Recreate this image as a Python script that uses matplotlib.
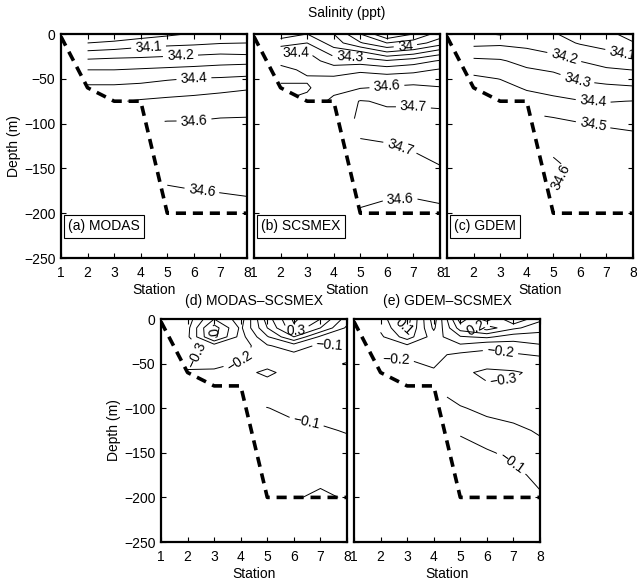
import numpy as np
import matplotlib
matplotlib.use("Agg")
import matplotlib.pyplot as plt

plt.rcParams['font.family'] = ['Liberation Sans', 'DejaVu Sans']
plt.rcParams['font.size'] = 10

nan = np.nan

# grid: stations 1..8, depth (m)
stations = [1, 2, 3, 4, 5, 6, 7, 8]
depths = [0, 10, 20, 30, 40, 50, 60, 75, 100, 125, 150, 175, 200]

# bathymetry (dashed)
bottom_station = [1, 2, 3, 4, 5, 8]
bottom_depth = [-3, -60, -75, -75, -200, -200]

# salinity (ppt), rows = depths, columns = stations
modas = [
    [nan, 33.90, 33.92, 33.95, 33.98, 34.01, 34.03, 34.04],
    [nan, 34.00, 34.02, 34.05, 34.07, 34.08, 34.095, 34.10],
    [nan, 34.115, 34.13, 34.15, 34.16, 34.17, 34.18, 34.17],
    [nan, 34.22, 34.23, 34.23, 34.24, 34.25, 34.265, 34.27],
    [nan, 34.30, 34.30, 34.31, 34.32, 34.33, 34.34, 34.35],
    [nan, 34.36, 34.36, 34.37, 34.39, 34.405, 34.41, 34.42],
    [nan, 34.42, 34.42, 34.43, 34.45, 34.46, 34.475, 34.49],
    [nan, nan, 34.49, 34.51, 34.52, 34.53, 34.54, 34.55],
    [nan, nan, nan, nan, 34.61, 34.61, 34.62, 34.62],
    [nan, nan, nan, nan, 34.64, 34.65, 34.66, 34.66],
    [nan, nan, nan, nan, 34.63, 34.64, 34.645, 34.65],
    [nan, nan, nan, nan, 34.59, 34.598, 34.603, 34.61],
    [nan, nan, nan, nan, 34.56, 34.57, 34.57, 34.57],
]

scsmex = [
    [nan, 34.15, 34.20, 34.10, 33.90, 33.70, 33.80, 33.95],
    [nan, 34.25, 34.30, 34.15, 34.01, 33.90, 33.95, 34.05],
    [nan, 34.38, 34.40, 34.25, 34.21, 34.10, 34.15, 34.25],
    [nan, 34.47, 34.45, 34.35, 34.35, 34.31, 34.35, 34.41],
    [nan, 34.53, 34.48, 34.45, 34.48, 34.45, 34.47, 34.51],
    [nan, 34.53, 34.51, 34.52, 34.55, 34.55, 34.56, 34.56],
    [nan, 34.47, 34.49, 34.56, 34.595, 34.61, 34.62, 34.605],
    [nan, nan, 34.52, 34.63, 34.705, 34.69, 34.69, 34.68],
    [nan, nan, nan, nan, 34.72, 34.73, 34.73, 34.74],
    [nan, nan, nan, nan, 34.69, 34.695, 34.71, 34.73],
    [nan, nan, nan, nan, 34.66, 34.66, 34.67, 34.695],
    [nan, nan, nan, nan, 34.63, 34.62, 34.62, 34.64],
    [nan, nan, nan, nan, 34.59, 34.57, 34.56, 34.57],
]

gdem = [
    [nan, 34.12, 34.09, 34.12, 34.11, 34.05, 34.02, 33.97],
    [nan, 34.17, 34.18, 34.17, 34.15, 34.09, 34.07, 34.005],
    [nan, 34.25, 34.25, 34.22, 34.19, 34.16, 34.11, 34.08],
    [nan, 34.32, 34.31, 34.27, 34.24, 34.198, 34.17, 34.14],
    [nan, 34.37, 34.36, 34.31, 34.29, 34.25, 34.21, 34.199],
    [nan, 34.42, 34.398, 34.35, 34.33, 34.29, 34.27, 34.26],
    [nan, 34.45, 34.43, 34.39, 34.37, 34.33, 34.32, 34.31],
    [nan, nan, 34.46, 34.44, 34.42, 34.405, 34.395, 34.402],
    [nan, nan, nan, nan, 34.53, 34.505, 34.49, 34.48],
    [nan, nan, nan, nan, 34.58, 34.55, 34.55, 34.54],
    [nan, nan, nan, nan, 34.62, 34.58, 34.57, 34.56],
    [nan, nan, nan, nan, 34.598, 34.58, 34.57, 34.56],
    [nan, nan, nan, nan, 34.59, 34.57, 34.56, 34.55],
]

# differences (ppt)
modas_minus_scsmex = [
    [nan, -0.35, -0.10, -0.25, 0.15, 0.42, 0.30, 0.05],
    [nan, -0.33, 0.05, -0.22, 0.10, 0.38, 0.20, -0.02],
    [nan, -0.32, 0.03, -0.24, -0.01, 0.20, -0.02, -0.08],
    [nan, -0.33, -0.25, -0.26, -0.11, -0.05, -0.12, -0.09],
    [nan, -0.31, -0.28, -0.22, -0.15, -0.12, -0.14, -0.13],
    [nan, -0.24, -0.23, -0.19, -0.17, -0.15, -0.15, -0.21],
    [nan, -0.18, -0.18, -0.17, -0.22, -0.16, -0.15, -0.15],
    [nan, nan, -0.16, -0.15, -0.16, -0.15, -0.14, -0.14],
    [nan, nan, nan, nan, -0.098, -0.12, -0.13, -0.13],
    [nan, nan, nan, nan, -0.06, -0.08, -0.09, -0.105],
    [nan, nan, nan, nan, -0.04, -0.05, -0.06, -0.07],
    [nan, nan, nan, nan, -0.03, -0.03, -0.03, -0.04],
    [nan, nan, nan, nan, -0.01, -0.01, 0.02, -0.01],
]

gdem_minus_scsmex = [
    [nan, -0.05, 0.15, -0.25, 0.25, 0.05, 0.30, 0.12],
    [nan, -0.08, 0.12, -0.22, 0.15, 0.25, 0.12, 0.05],
    [nan, -0.12, 0.05, -0.15, -0.01, 0.02, -0.05, -0.05],
    [nan, -0.15, -0.12, -0.13, -0.12, -0.18, -0.15, -0.11],
    [nan, -0.18, -0.19, -0.18, -0.22, -0.22, -0.21, -0.19],
    [nan, -0.22, -0.21, -0.19, -0.25, -0.27, -0.26, -0.25],
    [nan, -0.24, -0.23, -0.21, -0.28, -0.32, -0.31, -0.28],
    [nan, nan, -0.24, -0.21, -0.28, -0.29, -0.29, -0.28],
    [nan, nan, nan, nan, -0.19, -0.23, -0.24, -0.25],
    [nan, nan, nan, nan, -0.11, -0.15, -0.18, -0.21],
    [nan, nan, nan, nan, -0.07, -0.09, -0.12, -0.17],
    [nan, nan, nan, nan, -0.04, -0.07, -0.08, -0.12],
    [nan, nan, nan, nan, -0.02, -0.04, -0.05, -0.09],
]

sal_levels = [33.7, 33.8, 33.9, 34.0, 34.1, 34.2, 34.3, 34.4, 34.5, 34.6, 34.7]
diff_levels = [-0.3, -0.2, -0.1, 0.0, 0.1, 0.2, 0.3, 0.4]

# (level, station, depth) where the inline labels go
modas_labels = [(34.1, 4.3, -17), (34.2, 5.5, -27), (34.4, 6.0, -48),
                (34.6, 6.0, -95), (34.6, 6.3, -175)]
scsmex_labels = [(34.4, 2.6, -26), (34.3, 4.6, -26), (34.0, 6.7, -14),
                 (34.6, 6.0, -58), (34.7, 7.0, -81), (34.7, 6.5, -126),
                 (34.6, 6.5, -185)]
gdem_labels = [(34.1, 7.6, -21), (34.2, 5.4, -27), (34.3, 5.9, -51),
               (34.4, 6.5, -75), (34.5, 6.5, -101), (34.6, 5.3, -160)]
d_labels = [(0.0, 3.0, -15), (-0.3, 2.4, -40), (-0.2, 4.0, -48),
            (0.3, 6.1, -15), (-0.1, 7.35, -28), (-0.1, 6.5, -112)]
e_labels = [(0.1, 2.9, -8), (-0.2, 2.6, -45), (0.2, 5.6, -8),
            (-0.2, 6.5, -40), (-0.3, 6.6, -65), (-0.1, 7.05, -156)]


def fmt(v):
    return ('%g' % round(v, 2)).replace('-', '\u2212')


def nearest_on_level(ax, cs, lev, x, y):
    # point on the contour of level `lev` closest (in pixels) to (x, y)
    i = list(cs.levels).index(lev)
    p = ax.transData.transform((x, y))
    best, bd = None, np.inf
    for seg in cs.allsegs[i]:
        if len(seg) < 2:
            continue
        s = ax.transData.transform(seg)
        a, b = s[:-1], s[1:]
        ab = b - a
        t = np.clip(((p - a) * ab).sum(1) / np.maximum((ab * ab).sum(1), 1e-9), 0, 1)
        q = a + ab * t[:, None]
        d = np.hypot(*(q - p).T)
        k = d.argmin()
        if d[k] < bd:
            bd, best = d[k], q[k]
    if best is None:
        return None
    return ax.transData.inverted().transform(best)


def panel(ax, data, levels, labels, tag=None, ylab=True):
    ax.set_xlim(1, 8)
    ax.set_ylim(-250, 0)
    X, Y = np.meshgrid(stations, [-d for d in depths])
    Z = np.ma.masked_invalid(np.array(data, dtype=float))
    cs = ax.contour(X, Y, Z, levels=levels, colors='k', linewidths=0.7,
                    negative_linestyles='solid')
    spots = []
    for lev, x, y in labels:
        q = nearest_on_level(ax, cs, lev, x, y)
        if q is not None:
            spots.append(tuple(q))
    if spots:
        cs.clabel(manual=spots, inline=True, fmt=fmt, fontsize=10,
                  inline_spacing=4)
    ax.plot(bottom_station, bottom_depth, color='k', lw=2.6,
            linestyle=(0, (2.8, 1.9)))
    ax.set_xlim(1, 8)
    ax.set_ylim(-250, 0)
    ax.set_xticks(stations)
    ax.set_yticks([0, -50, -100, -150, -200, -250])
    ax.tick_params(direction='in', top=True, right=True, length=3.5,
                   width=0.8, labelsize=10)
    ax.tick_params(axis='x', pad=6)
    ax.tick_params(axis='y', pad=4)
    for s in ax.spines.values():
        s.set_linewidth(1.6)
    ax.set_xlabel('Station', labelpad=2)
    if ylab:
        ax.set_ylabel('Depth (m)', labelpad=2)
    else:
        ax.set_yticklabels([])
    if tag:
        ax.text(0.04, 0.11, tag, transform=ax.transAxes, ha='left', va='bottom',
                fontsize=10,
                bbox=dict(boxstyle='square,pad=0.3', fc='white', ec='k', lw=0.8))


fig = plt.figure(figsize=(6.37, 5.85), dpi=100)
W, H = 637, 585
ax_a = fig.add_axes([61 / W, 1 - 258 / H, 186 / W, 224 / H])
ax_b = fig.add_axes([254 / W, 1 - 258 / H, 186 / W, 224 / H])
ax_c = fig.add_axes([447 / W, 1 - 258 / H, 186 / W, 224 / H])
ax_d = fig.add_axes([161 / W, 1 - 542 / H, 186 / W, 223 / H])
ax_e = fig.add_axes([354 / W, 1 - 542 / H, 186 / W, 223 / H])

panel(ax_a, modas, sal_levels, modas_labels, '(a) MODAS')
panel(ax_b, scsmex, sal_levels, scsmex_labels, '(b) SCSMEX', ylab=False)
panel(ax_c, gdem, sal_levels, gdem_labels, '(c) GDEM', ylab=False)
panel(ax_d, modas_minus_scsmex, diff_levels, d_labels)
panel(ax_e, gdem_minus_scsmex, diff_levels, e_labels, ylab=False)

ax_b.set_title('Salinity (ppt)', fontsize=10, pad=12)
ax_d.set_title('(d) MODAS\u2013SCSMEX', fontsize=10, pad=10)
ax_e.set_title('(e) GDEM\u2013SCSMEX', fontsize=10, pad=10)

fig.savefig('out.png', dpi=100)
